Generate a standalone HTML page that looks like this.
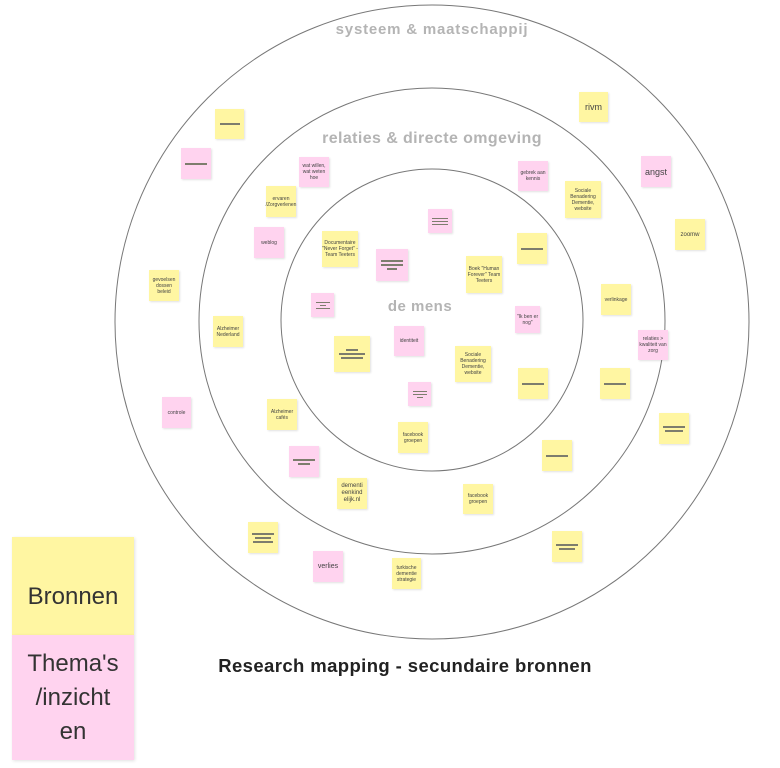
<!DOCTYPE html>
<html><head><meta charset="utf-8"><style>
body{margin:0;width:780px;height:768px;background:#fff;position:relative;overflow:hidden;font-family:"Liberation Sans","DejaVu Sans",sans-serif}
.n{position:absolute;display:flex;align-items:center;justify-content:center;text-align:center;font-size:5px;line-height:6px;color:#444;box-shadow:1px 1px 2px rgba(0,0,0,.12);flex-direction:column}
.y{background:#fff6a2}.p{background:#ffd3ef}
.l{display:block;height:2px;background:#7d7d6d;margin:1px auto}
.lbl{position:absolute;color:#b4b4b4;font-weight:bold;width:400px;text-align:center;white-space:nowrap}
</style></head><body>
<svg width="780" height="768" style="position:absolute;left:0;top:0">
<circle cx="432" cy="322" r="317" fill="none" stroke="#777" stroke-width="1"/>
<circle cx="432" cy="321" r="233" fill="none" stroke="#777" stroke-width="1"/>
<circle cx="432" cy="320" r="151" fill="none" stroke="#777" stroke-width="1"/>
</svg>
<div class="lbl" style="left:232px;top:21px;font-size:15px;letter-spacing:0.8px">systeem &amp; maatschappij</div>
<div class="lbl" style="left:232px;top:130px;font-size:16px;letter-spacing:0.4px">relaties &amp; directe omgeving</div>
<div class="lbl" style="left:220px;top:298px;font-size:15px;letter-spacing:0.5px">de mens</div>

<div class="n y" style="left:215px;top:109px;width:29px;height:30px"><i class="l" style="width:20px"></i></div>
<div class="n p" style="left:181px;top:148px;width:30px;height:31px"><i class="l" style="width:22px"></i></div>
<div class="n p" style="left:299px;top:157px;width:30px;height:30px">wat willen, wat weten hoe</div>
<div class="n y" style="left:266px;top:186px;width:30px;height:31px">ervaren /Zorgverlenen</div>
<div class="n p" style="left:254px;top:227px;width:30px;height:31px">weblog</div>
<div class="n y" style="left:322px;top:231px;width:36px;height:36px">Documentaire "Never Forget" - Team Teeters</div>
<div class="n p" style="left:376px;top:249px;width:32px;height:32px"><i class="l" style="width:22px"></i><i class="l" style="width:22px"></i><i class="l" style="width:10px"></i></div>
<div class="n y" style="left:149px;top:270px;width:30px;height:31px">gevoelsen dossen beleid</div>
<div class="n p" style="left:311px;top:293px;width:23px;height:24px"><i class="l" style="width:14px;height:1px"></i><i class="l" style="width:6px;height:1px"></i><i class="l" style="width:14px;height:1px"></i></div>
<div class="n y" style="left:213px;top:316px;width:30px;height:31px">Alzheimer Nederland</div>
<div class="n y" style="left:334px;top:336px;width:36px;height:36px"><i class="l" style="width:12px"></i><i class="l" style="width:26px"></i><i class="l" style="width:22px"></i></div>
<div class="n p" style="left:394px;top:326px;width:30px;height:30px">identiteit</div>
<div class="n y" style="left:579px;top:92px;width:29px;height:30px;font-size:9px;line-height:10px">rivm</div>
<div class="n p" style="left:518px;top:161px;width:30px;height:30px">gebrek aan kennis</div>
<div class="n y" style="left:565px;top:181px;width:36px;height:37px">Sociale Benadering Dementie, website</div>
<div class="n p" style="left:641px;top:156px;width:30px;height:31px;font-size:9px;line-height:10px">angst</div>
<div class="n y" style="left:675px;top:219px;width:30px;height:31px;font-size:6px">zoomw</div>
<div class="n p" style="left:428px;top:209px;width:24px;height:24px"><i class="l" style="width:16px;height:1px"></i><i class="l" style="width:16px;height:1px"></i><i class="l" style="width:16px;height:1px"></i></div>
<div class="n y" style="left:517px;top:233px;width:30px;height:31px"><i class="l" style="width:22px"></i></div>
<div class="n y" style="left:466px;top:256px;width:36px;height:37px">Boek "Human Forever" Team Teeters</div>
<div class="n y" style="left:601px;top:284px;width:30px;height:31px">verlinkage</div>
<div class="n p" style="left:515px;top:306px;width:25px;height:27px">"Ik ben er nog"</div>
<div class="n p" style="left:638px;top:330px;width:30px;height:30px">relaties > kwaliteit van zorg</div>
<div class="n y" style="left:455px;top:346px;width:36px;height:36px">Sociale Benadering Dementie, website</div>
<div class="n y" style="left:518px;top:368px;width:30px;height:31px"><i class="l" style="width:22px"></i></div>
<div class="n y" style="left:600px;top:368px;width:30px;height:31px"><i class="l" style="width:22px"></i></div>
<div class="n y" style="left:659px;top:413px;width:30px;height:31px"><i class="l" style="width:22px"></i><i class="l" style="width:18px"></i></div>
<div class="n y" style="left:542px;top:440px;width:30px;height:31px"><i class="l" style="width:22px"></i></div>
<div class="n y" style="left:463px;top:484px;width:30px;height:30px">facebook groepen</div>
<div class="n y" style="left:552px;top:531px;width:30px;height:31px"><i class="l" style="width:22px"></i><i class="l" style="width:16px"></i></div>
<div class="n p" style="left:162px;top:397px;width:29px;height:31px">controle</div>
<div class="n y" style="left:267px;top:399px;width:30px;height:31px">Alzheimer cafés</div>
<div class="n p" style="left:408px;top:382px;width:23px;height:24px"><i class="l" style="width:14px;height:1px"></i><i class="l" style="width:14px;height:1px"></i><i class="l" style="width:6px;height:1px"></i></div>
<div class="n y" style="left:398px;top:422px;width:30px;height:31px">facebook groepen</div>
<div class="n p" style="left:289px;top:446px;width:30px;height:31px"><i class="l" style="width:22px"></i><i class="l" style="width:12px"></i></div>
<div class="n y" style="left:337px;top:478px;width:30px;height:31px;font-size:6px;line-height:7px">dementi eenkind elijk.nl</div>
<div class="n y" style="left:248px;top:522px;width:30px;height:31px"><i class="l" style="width:22px"></i><i class="l" style="width:16px"></i><i class="l" style="width:20px"></i></div>
<div class="n p" style="left:313px;top:551px;width:30px;height:31px;font-size:7px">verlies</div>
<div class="n y" style="left:392px;top:558px;width:29px;height:31px">turkische dementie strategie</div>

<div style="position:absolute;left:12px;top:537px;width:122px;height:98px;background:#fff6a2;box-shadow:1px 1px 3px rgba(0,0,0,.12)"><div style="position:absolute;left:0;width:122px;top:46px;text-align:center;font-size:24px;line-height:28px;color:#333">Bronnen</div></div>
<div style="position:absolute;left:12px;top:635px;width:122px;height:125px;background:#ffd3ef;display:flex;align-items:center;justify-content:center;text-align:center;font-size:24px;line-height:34px;color:#333;box-shadow:1px 1px 3px rgba(0,0,0,.12)">Thema's<br>/inzicht<br>en</div>
<div style="position:absolute;left:205px;top:655px;width:400px;text-align:center;font-size:18.5px;letter-spacing:0.4px;font-weight:bold;color:#222;white-space:nowrap">Research mapping - secundaire bronnen</div>
</body></html>
